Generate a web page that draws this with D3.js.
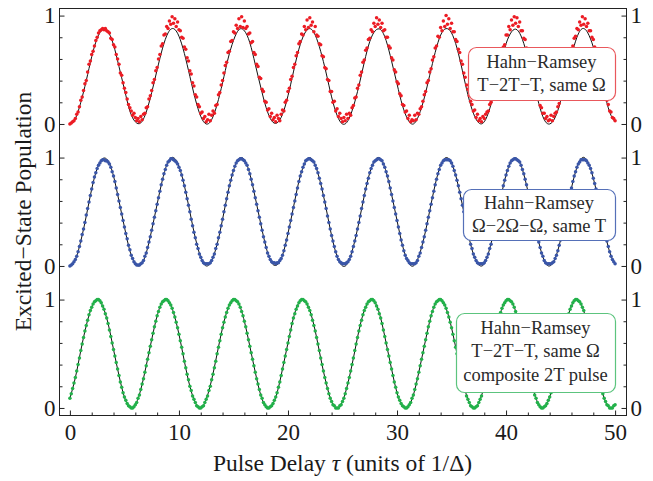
<!DOCTYPE html>
<html>
<head>
<meta charset="utf-8">
<script src="https://cdn.jsdelivr.net/npm/d3@7"></script>
<style>
  html, body { margin: 0; padding: 0; background: #fff; }
  svg { display: block; font-family: "Liberation Serif", "Times New Roman", serif; }
</style>
</head>
<body>
<svg id="chart" width="653" height="481"></svg>
<script>
// sampling of the measured points and of the fitted curves (tau units)
const tauStep = 0.125;
const fitStep = 0.5;

// top panel : Hahn-Ramsey T-2T-T, same Omega
const redData = [
  0.00,0.01,0.02,0.03,0.05,0.09,0.11,0.16,0.22,0.25,0.31,0.37,0.40,0.48,0.55,0.58,0.64,0.67,0.72,0.77,0.80,0.84,0.86,0.87,0.88,0.87,0.88,0.86,0.85,0.84,0.79,0.78,0.73,0.71,0.64,0.60,0.55,0.47,0.45,0.38,0.33,0.29,0.23,0.18,0.15,0.12,0.08,0.10,0.06,0.03,0.05,
  0.02,0.07,0.04,0.09,0.10,0.15,0.16,0.23,0.26,0.31,0.38,0.41,0.49,0.52,0.60,0.64,0.72,0.74,0.82,0.83,0.90,0.88,0.95,0.92,0.99,0.93,0.97,0.90,0.94,0.87,0.86,0.80,0.79,0.71,0.69,0.61,0.58,0.49,0.46,0.38,0.35,0.27,0.25,0.18,0.16,0.10,0.11,0.05,0.07,0.02,
  0.04,0.09,0.03,0.08,0.12,0.10,0.17,0.18,0.27,0.29,0.36,0.40,0.47,0.54,0.57,0.66,0.67,0.76,0.77,0.85,0.84,0.91,0.88,0.97,0.90,0.99,0.89,0.95,0.88,0.90,0.83,0.84,0.75,0.76,0.66,0.64,0.55,0.53,0.43,0.42,0.32,0.30,0.21,0.20,0.13,0.14,0.07,0.10,0.04,0.06,
  0.02,0.08,0.05,0.03,0.09,0.13,0.12,0.20,0.22,0.30,0.33,0.41,0.44,0.52,0.55,0.63,0.66,0.74,0.76,0.83,0.82,0.90,0.87,0.96,0.89,0.98,0.91,0.94,0.85,0.90,0.82,0.81,0.74,0.73,0.63,0.62,0.52,0.51,0.41,0.40,0.30,0.30,0.20,0.21,0.12,0.14,0.07,0.10,0.05,0.02,
  0.06,0.03,0.09,0.05,0.10,0.08,0.15,0.17,0.24,0.25,0.33,0.36,0.45,0.48,0.57,0.59,0.68,0.70,0.78,0.79,0.87,0.85,0.93,0.90,0.98,0.92,0.96,0.89,0.93,0.86,0.87,0.80,0.80,0.72,0.70,0.61,0.59,0.50,0.48,0.39,0.37,0.28,0.26,0.18,0.17,0.11,0.12,0.05,0.08,0.02,0.04,
  0.03,0.08,0.04,0.10,0.09,0.14,0.16,0.21,0.27,0.30,0.38,0.40,0.48,0.51,0.59,0.62,0.70,0.72,0.81,0.80,0.89,0.86,0.95,0.90,1.00,0.92,0.97,0.88,0.93,0.85,0.85,0.78,0.76,0.69,0.66,0.58,0.55,0.47,0.43,0.36,0.32,0.26,0.21,0.18,0.12,0.13,0.06,0.09,0.03,0.05,
  0.02,0.07,0.05,0.09,0.11,0.12,0.18,0.20,0.28,0.29,0.38,0.40,0.49,0.52,0.60,0.63,0.71,0.73,0.82,0.82,0.90,0.87,0.96,0.91,0.99,0.93,0.98,0.90,0.94,0.86,0.86,0.79,0.78,0.70,0.68,0.59,0.57,0.48,0.46,0.37,0.35,0.26,0.24,0.17,0.15,0.10,0.10,0.05,0.07,0.03,
  0.04,0.08,0.03,0.07,0.10,0.11,0.16,0.19,0.25,0.29,0.35,0.39,0.46,0.50,0.57,0.61,0.68,0.72,0.79,0.81,0.88,0.87,0.94,0.91,0.99,0.92,0.97,0.90,0.93,0.86,0.86,0.80,0.78,0.71,0.69,0.60,0.57,0.49,0.45,0.38,0.33,0.27,0.22,0.18,0.12,0.11,0.06,0.05,0.03
];
const redFit = [
  0.00,0.05,0.20,0.40,0.62,0.79,0.87,0.85,0.73,0.53,0.32,0.12,0.02,
  0.01,0.11,0.29,0.50,0.70,0.84,0.88,0.81,0.65,0.44,0.23,0.07,0.00,
  0.04,0.18,0.38,0.60,0.77,0.87,0.86,0.75,0.55,0.34,0.15,0.03,
  0.01,0.09,0.26,0.48,0.69,0.83,0.88,0.82,0.67,0.47,0.25,0.08,0.00,
  0.03,0.16,0.35,0.57,0.76,0.86,0.87,0.77,0.58,0.37,0.17,0.04,
  0.00,0.08,0.24,0.45,0.66,0.82,0.88,0.84,0.70,0.49,0.27,0.10,0.01,
  0.02,0.14,0.33,0.55,0.74,0.85,0.87,0.78,0.61,0.40,0.19,0.04,
  0.00,0.06,0.21,0.42,0.63,0.80,0.88,0.84,0.71,0.52,0.30,0.11,0.02
];

// middle panel : Hahn-Ramsey Omega-2Omega-Omega, same T
const blueData = [
  0.00,0.01,0.02,0.04,0.06,0.09,0.13,0.18,0.23,0.29,0.34,0.40,0.47,0.53,0.59,0.65,0.71,0.77,0.82,0.86,0.90,0.93,0.95,0.97,0.98,0.98,0.97,0.97,0.96,0.94,0.91,0.87,0.83,0.78,0.72,0.66,0.60,0.54,0.48,0.42,0.36,0.30,0.25,0.19,0.15,0.10,0.07,0.04,0.02,0.01,0.01,
  0.01,0.02,0.03,0.05,0.09,0.12,0.17,0.22,0.27,0.33,0.39,0.45,0.51,0.57,0.63,0.69,0.75,0.80,0.85,0.89,0.93,0.96,0.97,0.99,0.99,0.98,0.97,0.96,0.94,0.91,0.88,0.84,0.79,0.74,0.68,0.62,0.56,0.50,0.43,0.37,0.31,0.26,0.20,0.16,0.11,0.08,0.05,0.03,0.02,0.02,
  0.02,0.02,0.03,0.05,0.08,0.11,0.16,0.20,0.26,0.31,0.37,0.43,0.50,0.56,0.62,0.68,0.74,0.79,0.84,0.88,0.92,0.95,0.97,0.98,0.99,0.99,0.98,0.97,0.95,0.93,0.89,0.85,0.80,0.75,0.69,0.63,0.57,0.51,0.45,0.39,0.33,0.27,0.22,0.17,0.12,0.09,0.06,0.04,0.03,0.03,
  0.02,0.03,0.03,0.05,0.07,0.10,0.14,0.19,0.24,0.30,0.36,0.42,0.48,0.54,0.60,0.66,0.72,0.78,0.83,0.87,0.91,0.94,0.97,0.98,0.99,0.99,0.98,0.97,0.96,0.93,0.90,0.86,0.81,0.76,0.71,0.65,0.59,0.53,0.46,0.40,0.34,0.28,0.23,0.18,0.13,0.09,0.06,0.04,0.03,0.02,
  0.02,0.02,0.03,0.04,0.06,0.09,0.13,0.18,0.23,0.28,0.34,0.40,0.46,0.53,0.59,0.65,0.71,0.76,0.81,0.86,0.90,0.93,0.96,0.97,0.98,0.99,0.99,0.98,0.97,0.94,0.91,0.87,0.83,0.78,0.72,0.66,0.60,0.54,0.48,0.42,0.36,0.30,0.24,0.19,0.14,0.10,0.07,0.05,0.03,0.02,0.02,
  0.02,0.02,0.03,0.05,0.09,0.12,0.17,0.22,0.27,0.33,0.39,0.45,0.51,0.57,0.63,0.69,0.75,0.80,0.85,0.89,0.93,0.95,0.97,0.98,0.98,0.98,0.98,0.97,0.95,0.92,0.88,0.84,0.79,0.74,0.68,0.62,0.56,0.50,0.43,0.37,0.31,0.26,0.20,0.16,0.11,0.08,0.05,0.03,0.02,0.02,
  0.02,0.02,0.03,0.05,0.08,0.11,0.16,0.20,0.26,0.31,0.37,0.43,0.50,0.56,0.62,0.68,0.74,0.79,0.84,0.88,0.92,0.95,0.97,0.98,0.99,0.99,0.98,0.97,0.96,0.93,0.89,0.85,0.80,0.75,0.69,0.63,0.57,0.51,0.45,0.39,0.33,0.27,0.22,0.17,0.12,0.09,0.05,0.03,0.02,0.02,
  0.02,0.02,0.03,0.04,0.07,0.10,0.14,0.19,0.24,0.30,0.36,0.42,0.48,0.54,0.60,0.66,0.72,0.78,0.83,0.87,0.91,0.94,0.96,0.98,0.98,0.98,0.98,0.97,0.95,0.93,0.90,0.86,0.81,0.76,0.71,0.65,0.59,0.53,0.46,0.40,0.34,0.28,0.23,0.18,0.13,0.09,0.06,0.04,0.02
];
const blueFit = [
  0.00,0.06,0.23,0.46,0.71,0.90,0.99,0.97,0.83,0.60,0.36,0.14,0.02,
  0.01,0.12,0.33,0.57,0.80,0.96,1.00,0.92,0.74,0.50,0.26,0.08,0.00,
  0.05,0.20,0.43,0.68,0.88,0.99,0.98,0.85,0.63,0.39,0.17,0.03,
  0.01,0.10,0.30,0.54,0.78,0.94,1.00,0.93,0.76,0.53,0.28,0.09,0.00,
  0.03,0.18,0.40,0.65,0.86,0.98,0.99,0.87,0.66,0.42,0.19,0.04,
  0.00,0.09,0.27,0.51,0.75,0.93,1.00,0.95,0.79,0.56,0.31,0.11,0.01,
  0.02,0.16,0.37,0.62,0.84,0.97,0.99,0.89,0.69,0.45,0.22,0.05,
  0.00,0.07,0.24,0.48,0.72,0.91,1.00,0.96,0.81,0.59,0.34,0.13,0.02
];

// bottom panel : Hahn-Ramsey T-2T-T, same Omega, composite 2T pulse
const greenData = [
  0.09,0.13,0.18,0.23,0.28,0.34,0.40,0.46,0.53,0.59,0.65,0.71,0.76,0.81,0.86,0.90,0.93,0.96,0.98,0.99,1.00,1.00,0.99,0.97,0.94,0.91,0.87,0.83,0.78,0.72,0.66,0.60,0.54,0.48,0.42,0.36,0.30,0.24,0.19,0.14,0.10,0.07,0.04,0.02,0.01,0.00,
  0.00,0.01,0.03,0.05,0.09,0.12,0.17,0.22,0.27,0.33,0.39,0.45,0.51,0.57,0.63,0.69,0.75,0.80,0.85,0.89,0.93,0.96,0.98,0.99,1.00,1.00,0.99,0.97,0.95,0.92,0.88,0.84,0.79,0.74,0.68,0.62,0.56,0.50,0.43,0.37,0.31,0.26,0.20,0.16,0.11,0.08,0.05,0.02,0.01,0.00,
  0.00,0.01,0.02,0.05,0.08,0.11,0.16,0.20,0.26,0.31,0.37,0.43,0.50,0.56,0.62,0.68,0.74,0.79,0.84,0.88,0.92,0.95,0.97,0.99,1.00,1.00,0.99,0.98,0.96,0.93,0.89,0.85,0.80,0.75,0.69,0.63,0.57,0.51,0.45,0.39,0.33,0.27,0.22,0.17,0.12,0.09,0.05,0.03,0.01,0.00,
  0.00,0.01,0.02,0.04,0.07,0.10,0.14,0.19,0.24,0.30,0.36,0.42,0.48,0.54,0.60,0.66,0.72,0.78,0.83,0.87,0.91,0.94,0.97,0.99,1.00,1.00,0.99,0.98,0.96,0.93,0.90,0.86,0.81,0.76,0.71,0.65,0.59,0.53,0.46,0.40,0.34,0.28,0.23,0.18,0.13,0.09,0.06,0.03,0.02,0.00,
  0.00,0.00,0.02,0.03,0.06,0.09,0.13,0.18,0.23,0.28,0.34,0.40,0.46,0.53,0.59,0.65,0.71,0.76,0.81,0.86,0.90,0.93,0.96,0.98,0.99,1.00,1.00,0.99,0.97,0.94,0.91,0.87,0.83,0.78,0.72,0.66,0.60,0.54,0.48,0.42,0.36,0.30,0.24,0.19,0.14,0.10,0.07,0.04,0.02,0.01,0.00,
  0.00,0.01,0.03,0.05,0.09,0.12,0.17,0.22,0.27,0.33,0.39,0.45,0.51,0.57,0.63,0.69,0.75,0.80,0.85,0.89,0.93,0.96,0.98,0.99,1.00,1.00,0.99,0.97,0.95,0.92,0.88,0.84,0.79,0.74,0.68,0.62,0.56,0.50,0.43,0.37,0.31,0.26,0.20,0.16,0.11,0.08,0.05,0.02,0.01,0.00,
  0.00,0.01,0.02,0.05,0.08,0.11,0.16,0.20,0.26,0.31,0.37,0.43,0.50,0.56,0.62,0.68,0.74,0.79,0.84,0.88,0.92,0.95,0.97,0.99,1.00,1.00,0.99,0.98,0.96,0.93,0.89,0.85,0.80,0.75,0.69,0.63,0.57,0.51,0.45,0.39,0.33,0.27,0.22,0.17,0.12,0.09,0.05,0.03,0.01,0.00,
  0.00,0.01,0.02,0.04,0.07,0.10,0.14,0.19,0.24,0.30,0.36,0.42,0.48,0.54,0.60,0.66,0.72,0.78,0.83,0.87,0.91,0.94,0.97,0.99,1.00,1.00,0.99,0.98,0.96,0.93,0.90,0.86,0.81,0.76,0.71,0.65,0.59,0.53,0.46,0.40,0.34,0.28,0.23,0.18,0.13,0.09,0.06,0.03,0.02,0.00,
  0.00,0.00,0.02,0.03
];
const greenFit = [
  0.09,0.28,0.53,0.76,0.93,1.00,0.94,0.78,0.54,0.30,0.10,0.01,
  0.03,0.17,0.39,0.63,0.85,0.98,0.99,0.88,0.68,0.43,0.20,0.05,
  0.00,0.08,0.26,0.50,0.74,0.92,1.00,0.96,0.80,0.57,0.33,0.12,0.01,
  0.02,0.14,0.36,0.60,0.83,0.97,0.99,0.90,0.71,0.46,0.23,0.06,
  0.00,0.06,0.23,0.46,0.71,0.90,0.99,0.97,0.83,0.60,0.36,0.14,0.02,
  0.01,0.12,0.33,0.57,0.80,0.96,1.00,0.92,0.74,0.50,0.26,0.08,
  0.00,0.05,0.20,0.43,0.68,0.88,0.99,0.98,0.85,0.63,0.39,0.17,0.03,
  0.01,0.10,0.30,0.54,0.78,0.94,1.00,0.93,0.76,0.53,0.28,0.09,0.00,0.03
];

// ticks and texts
const xTicks = [0, 10, 20, 30, 40, 50];
const xMinorTicks = [2, 4, 6, 8, 12, 14, 16, 18, 22, 24, 26, 28, 32, 34, 36, 38, 42, 44, 46, 48];
const yTicks = [0, 1];
const yMinorTicks = [0.2, 0.4, 0.6, 0.8];
const legendRed = ['Hahn\u2212Ramsey', 'T\u22122T\u2212T, same \u03A9'];
const legendBlue = ['Hahn\u2212Ramsey', '\u03A9\u22122\u03A9\u2212\u03A9, same T'];
const legendGreen = ['Hahn\u2212Ramsey', 'T\u22122T\u2212T, same \u03A9', 'composite 2T pulse'];

const svg = d3.select('#chart');
const frame = { left: 59, right: 626, top: 8, bottom: 415 };

const x = d3.scaleLinear().domain([-1, 51]).range([frame.left, frame.right]);
const y = d3.scaleLinear().domain([-0.065, 3.69]).range([frame.bottom, frame.top]);

const panels = [
  { data: redData, fit: redFit, color: '#ec1c24', border: '#e9585c', offset: 2.62,
    box: { x: 468, y: 47, w: 147, h: 53 }, lines: legendRed, first: 68 },
  { data: blueData, fit: blueFit, color: '#3a56a8', border: '#5570b8', offset: 1.31,
    box: { x: 463, y: 189, w: 152, h: 51 }, lines: legendBlue, first: 209 },
  { data: greenData, fit: greenFit, color: '#22b14a', border: '#5cc47e', offset: 0,
    box: { x: 456, y: 313, w: 159, h: 79 }, lines: legendGreen, first: 334 }
];

// fitted curves first, points on top
panels.forEach(p => {
  const line = d3.line()
    .x((d, i) => x(i * fitStep))
    .y(d => y(d + p.offset))
    .curve(d3.curveNatural);

  svg.append('path')
    .datum(p.fit)
    .attr('d', line)
    .attr('fill', 'none')
    .attr('stroke', '#111')
    .attr('stroke-width', 1);

  svg.append('g')
    .selectAll('circle')
    .data(p.data)
    .join('circle')
    .attr('cx', (d, i) => x(i * tauStep))
    .attr('cy', d => y(d + p.offset))
    .attr('r', 1.75)
    .attr('fill', p.color);
});

// frame
svg.append('rect')
  .attr('x', frame.left + 0.5)
  .attr('y', frame.top + 0.5)
  .attr('width', frame.right - frame.left)
  .attr('height', frame.bottom - frame.top)
  .attr('fill', 'none')
  .attr('stroke', '#222')
  .attr('stroke-width', 1);

// axes
const styleAxis = g => {
  g.select('.domain').remove();
  g.selectAll('line').attr('stroke', '#222');
  g.selectAll('text')
    .attr('fill', '#1a1a1a')
    .style('font-size', '23px')
    .style('font-family', '"Liberation Serif", "Times New Roman", serif');
};

svg.append('g')
  .attr('transform', `translate(0,${frame.bottom + 0.5})`)
  .call(d3.axisBottom(x).tickValues(xMinorTicks).tickSize(-3).tickFormat(''))
  .call(styleAxis);

svg.append('g')
  .attr('transform', `translate(0,${frame.bottom + 0.5})`)
  .call(d3.axisBottom(x).tickValues(xTicks).tickSize(-5).tickPadding(8))
  .call(styleAxis);

const yMinor = [];
const yMajor = [];
const yMajorLabels = [];
panels.forEach(p => {
  yMinorTicks.forEach(v => yMinor.push(p.offset + v));
  yTicks.forEach(v => { yMajor.push(p.offset + v); yMajorLabels.push(String(v)); });
});

[
  { axis: d3.axisLeft, pos: frame.left + 0.5 },
  { axis: d3.axisRight, pos: frame.right + 0.5 }
].forEach(side => {
  svg.append('g')
    .attr('transform', `translate(${side.pos},0)`)
    .call(side.axis(y).tickValues(yMinor).tickSize(-3).tickFormat(''))
    .call(styleAxis);
  svg.append('g')
    .attr('transform', `translate(${side.pos},0)`)
    .call(side.axis(y).tickValues(yMajor).tickSize(-5).tickPadding(4)
      .tickFormat((d, i) => yMajorLabels[i]))
    .call(styleAxis);
});

// axis titles
const xTitle = svg.append('text')
  .attr('x', (frame.left + frame.right) / 2)
  .attr('y', 471)
  .attr('text-anchor', 'middle')
  .attr('fill', '#1a1a1a')
  .style('font-size', '23.5px');
xTitle.append('tspan').text('Pulse Delay ');
xTitle.append('tspan').style('font-style', 'italic').text('\u03C4');
xTitle.append('tspan').text(' (units of 1/\u0394)');

svg.append('text')
  .attr('transform', `translate(31,${(frame.top + frame.bottom) / 2}) rotate(-90)`)
  .attr('text-anchor', 'middle')
  .attr('fill', '#1a1a1a')
  .style('font-size', '23.5px')
  .text('Excited\u2212State Population');

// legend boxes
panels.forEach(p => {
  const g = svg.append('g');
  g.append('rect')
    .attr('x', p.box.x + 0.5)
    .attr('y', p.box.y + 0.5)
    .attr('width', p.box.w)
    .attr('height', p.box.h)
    .attr('rx', 8)
    .attr('fill', '#fff')
    .attr('stroke', p.border)
    .attr('stroke-width', 1.2);
  g.selectAll('text')
    .data(p.lines)
    .join('text')
    .attr('x', p.box.x + p.box.w / 2)
    .attr('y', (d, i) => p.first + i * 23.3)
    .attr('text-anchor', 'middle')
    .attr('fill', '#2a2a2a')
    .style('font-size', '18.5px')
    .text(d => d);
});
</script>
</body>
</html>
